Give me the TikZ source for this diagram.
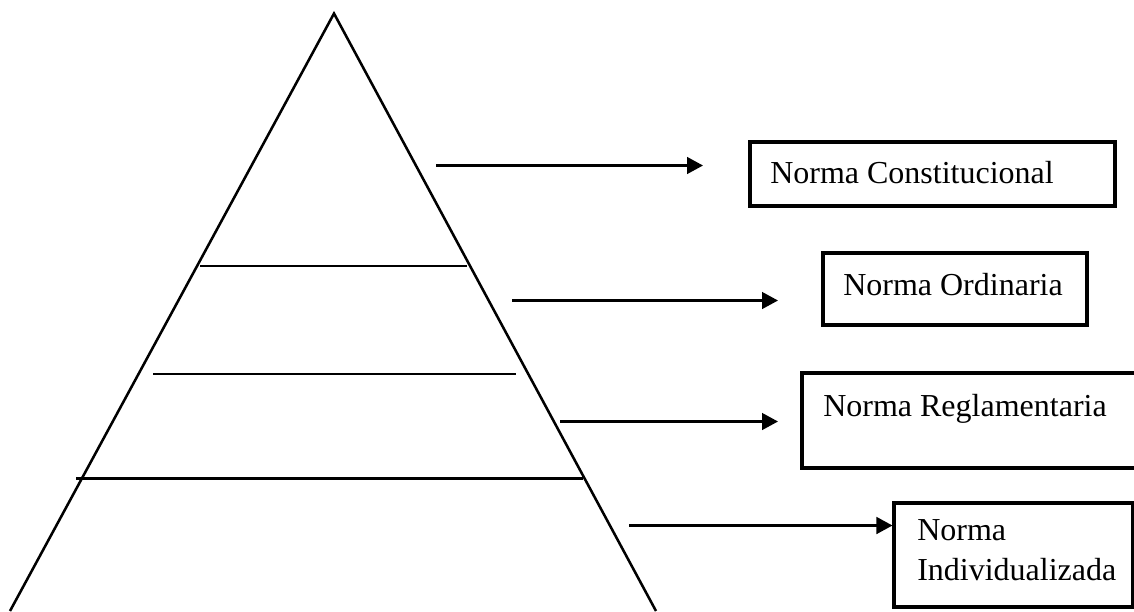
\documentclass[tikz,border=0pt]{standalone}
\usepackage{fontspec}
\setmainfont{Liberation Serif}
\usetikzlibrary{arrows.meta}
\begin{document}
\begin{tikzpicture}[x=0.75pt,y=-0.75pt,
  pyr/.style={line width=1.9pt,line join=miter},
  tier/.style={line width=1.9pt},
  conn/.style={line width=1.9pt,-{Triangle[length=12pt,width=12.5pt]}},
  normbox/.style={draw,line width=2.3pt,inner sep=0pt,rectangle},
  lbl/.style={anchor=base west,inner sep=0pt,font=\fontsize{24pt}{30pt}\selectfont}]
\useasboundingbox (0,0) rectangle (1134,611);
% pyramid
\coordinate (apex) at (334,13.5);
\coordinate (bl) at (10,611);
\coordinate (br) at (656,611);
\draw[pyr] (bl) -- (apex) -- (br);
% tiers
\coordinate (l1a) at (200,266); \coordinate (l1b) at (467,266);
\coordinate (l2a) at (153,374); \coordinate (l2b) at (516,374);
\coordinate (l3a) at (76,478.5); \coordinate (l3b) at (583,478.5);
\draw[tier] (l1a) -- (l1b);
\draw[tier] (l2a) -- (l2b);
\draw[tier] (l3a) -- (l3b);
% boxes
\node[normbox,minimum width=365*0.75pt,minimum height=64*0.75pt] (b1) at (932.5,174) {};
\node[normbox,minimum width=264*0.75pt,minimum height=72*0.75pt] (b2) at (955,289) {};
\node[normbox,minimum width=343*0.75pt,minimum height=95*0.75pt] (b3) at (973.5,420.5) {};
\node[normbox,minimum width=239*0.75pt,minimum height=104*0.75pt] (b4) at (1013.5,555) {};
% labels
\node[lbl] (t1) at (770,183) {Norma Constitucional};
\node[lbl] (t2) at (843,295) {Norma Ordinaria};
\node[lbl] (t3) at (823,416) {Norma Reglamentaria};
\node[lbl] (t4a) at (917,540) {Norma};
\node[lbl] (t4b) at (917,580) {Individualizada};
% arrows
\coordinate (a1s) at (436,165.5); \coordinate (a1e) at (703,165.5);
\coordinate (a2s) at (512,300.5); \coordinate (a2e) at (778,300.5);
\coordinate (a3s) at (560,421.5); \coordinate (a3e) at (778,421.5);
\coordinate (a4s) at (629,525.5);
\draw[conn] (a1s) -- (a1e);
\draw[conn] (a2s) -- (a2e);
\draw[conn] (a3s) -- (a3e);
\draw[conn] (a4s) -- (a4s -| b4.west);
\end{tikzpicture}
\end{document}
